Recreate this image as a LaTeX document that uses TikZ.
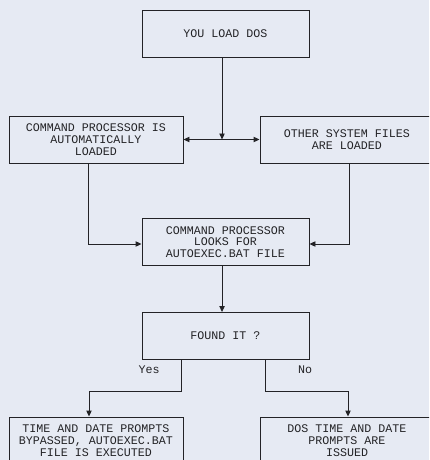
\documentclass[tikz,border=0pt]{standalone}
\usepackage{fontspec}
\setmonofont{Liberation Mono}
\usetikzlibrary{arrows.meta}
\definecolor{paper}{HTML}{E6EAF3}
\definecolor{ink}{HTML}{232326}
\tikzset{
  stepbox/.style={draw=ink, line width=0.7pt, align=center, inner sep=0pt,
    minimum height=35.25pt, text=ink, font=\ttfamily\fontsize{8.75}{8.8}\selectfont},
  flow/.style={draw=ink, line width=0.7pt, -{Triangle[length=4.5pt,width=4pt]}},
  answer/.style={text=ink, font=\ttfamily\fontsize{8.75}{8.8}\selectfont}
}
\begin{document}
\begin{tikzpicture}[x=0.75pt,y=-0.75pt]
\fill[paper] (0,0) rectangle (429,460);
\useasboundingbox (0,0) rectangle (429,460);
\clip (0,0) rectangle (429,460);
\node[stepbox, minimum width=125.25pt] (load) at (225.5,33.5) {YOU LOAD DOS};
\node[stepbox, minimum width=130.5pt] (cmdproc) at (96,139.5) {COMMAND PROCESSOR IS\\AUTOMATICALLY\\LOADED};
\node[stepbox, minimum width=130.5pt] (sysfiles) at (347,139.5) {OTHER SYSTEM FILES\\ARE LOADED};
\node[stepbox, minimum width=125.25pt] (looks) at (225.5,242) {COMMAND PROCESSOR\\LOOKS FOR\\AUTOEXEC.BAT FILE};
\node[stepbox, minimum width=125.25pt] (found) at (225.5,336) {FOUND IT ?};
\node[stepbox, minimum width=130.5pt] (bypass) at (96,440.5) {TIME AND DATE PROMPTS\\BYPASSED, AUTOEXEC.BAT\\FILE IS EXECUTED};
\node[stepbox, minimum width=130.5pt] (issued) at (347,440.5) {DOS TIME AND DATE\\PROMPTS ARE\\ISSUED};
\coordinate (split) at ([xshift=-2.6pt]load.south |- cmdproc.east);
\draw[flow] ([xshift=-2.6pt]load.south) -- (split);
\draw[flow] (split) -- (cmdproc.east);
\draw[flow] (split) -- (sysfiles.west);
\draw[flow] ([xshift=-6pt]cmdproc.south) |- ([yshift=-1.5pt]looks.west);
\draw[flow] ([xshift=1.5pt]sysfiles.south) |- ([yshift=-1.5pt]looks.east);
\draw[flow] ([xshift=-2.6pt]looks.south) -- ([xshift=-2.6pt]found.north);
\draw[flow] ([xshift=-33.4pt]found.south) -- ++(0,-23.25pt) -| ([xshift=-5.25pt]bypass.north);
\draw[flow] ([xshift=29.6pt]found.south) -- ++(0,-23.25pt) -| ([xshift=0.75pt]issued.north);
\node[answer] (yes) at (149,370) {Yes};
\node[answer] (no) at (305,370) {No};
\end{tikzpicture}
\end{document}
